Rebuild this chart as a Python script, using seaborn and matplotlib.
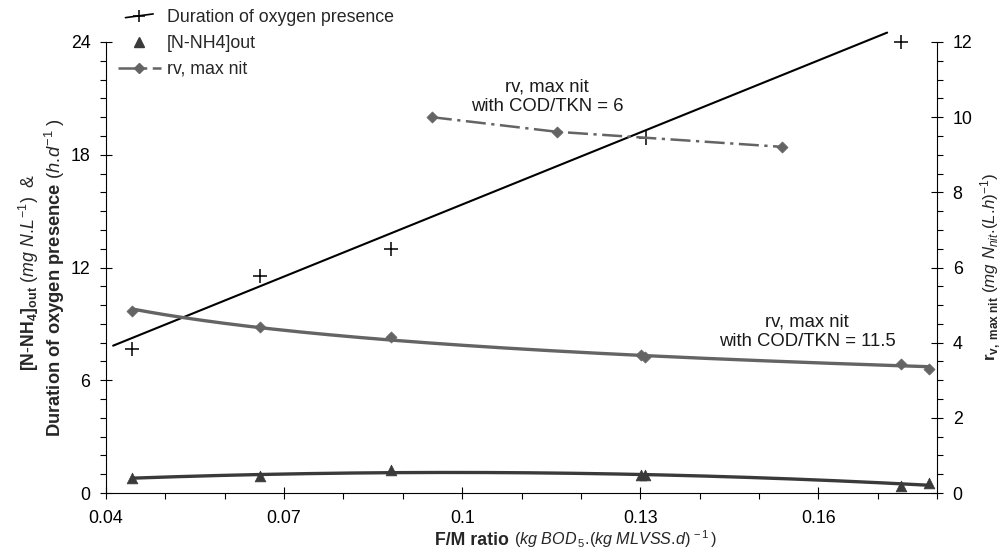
import numpy as np
import matplotlib
matplotlib.use("Agg")
import matplotlib.pyplot as plt
from matplotlib.lines import Line2D
from matplotlib.legend_handler import HandlerLine2D
from matplotlib.ticker import MultipleLocator, FixedLocator, FixedFormatter
import seaborn as sns

# ---- data -------------------------------------------------------------
# F/M ratio in kg BOD5 per kg MLVSS per day
fm_duration = [0.0444, 0.0659, 0.0880, 0.1310, 0.1740]
oxygen_duration = [7.65, 11.55, 13.0, 18.9, 24.0]          # h/d
duration_trend_fm = [0.0412, 0.1716]
duration_trend_h = [7.84, 24.5]

fm_nh4 = [0.0444, 0.0659, 0.0880, 0.1301, 0.1308, 0.1740, 0.1787]
nh4_out = [0.80, 0.90, 1.20, 0.96, 0.96, 0.37, 0.53]        # mg N/L

fm_rv_115 = [0.0444, 0.0659, 0.0880, 0.1301, 0.1308, 0.1740, 0.1787]
rv_115 = [4.84, 4.42, 4.15, 3.67, 3.62, 3.43, 3.30]          # mg Nnit/(L.h)

fm_rv_6 = [0.0949, 0.1160, 0.1539]
rv_6 = [10.0, 9.61, 9.21]

x_ticks = [0.04, 0.07, 0.10, 0.13, 0.16]
x_tick_labels = ["0.04", "0.07", "0.1", "0.13", "0.16"]
left_ticks = [0, 6, 12, 18, 24]
right_ticks = [0, 2, 4, 6, 8, 10, 12]

legend_labels = ["Duration of oxygen presence", "[N-NH4]out", "rv, max nit"]

# ---- style ------------------------------------------------------------
sns.set_theme(style="ticks")
plt.rcParams["font.family"] = ["Liberation Sans", "DejaVu Sans"]
plt.rcParams["mathtext.fontset"] = "custom"
plt.rcParams["mathtext.rm"] = "Liberation Sans"
plt.rcParams["mathtext.it"] = "Liberation Sans:italic"
plt.rcParams["mathtext.bf"] = "Liberation Sans:bold"
FS = 12.8

GREY = "#646464"
DARK = "#3a3a3a"

W, H = 1002, 555
fig = plt.figure(figsize=(W / 100, H / 100), dpi=100)
fig.patch.set_facecolor("white")
ax = fig.add_axes([106 / W, 62 / H, 831 / W, 451 / H])
ax2 = ax.twinx()
for a in (ax, ax2):
    a.set_facecolor("none")

# ---- oxygen presence: trend line + markers ------------------------------
sns.lineplot(x=duration_trend_fm, y=duration_trend_h, ax=ax, color="black",
             linewidth=1.5, legend=False)
ax.lines[-1].set_clip_on(False)
sns.scatterplot(x=fm_duration, y=oxygen_duration, ax=ax, marker="+", s=95,
                color="black", linewidth=1.1, clip_on=False, zorder=4)

# ---- ammonium: 2nd-order polynomial trend -------------------------------
nh4_coef = np.polyfit(fm_nh4, nh4_out, 2)
xs_nh4 = np.linspace(min(fm_nh4), max(fm_nh4), 200)
sns.lineplot(x=xs_nh4, y=np.polyval(nh4_coef, xs_nh4), ax=ax, color=DARK,
             linewidth=2.4, legend=False)
sns.scatterplot(x=fm_nh4, y=nh4_out, ax=ax, marker="^", s=60, color=DARK,
                edgecolor=DARK, linewidth=0.5, zorder=4, clip_on=False)

# ---- rv, max nit (COD/TKN = 11.5): power trend ---------------------------
pw = np.polyfit(np.log(fm_rv_115), np.log(rv_115), 1)
xs_rv = np.linspace(min(fm_rv_115), max(fm_rv_115), 200)
sns.lineplot(x=xs_rv, y=np.exp(np.polyval(pw, np.log(xs_rv))), ax=ax2,
             color=GREY, linewidth=2.4, legend=False)
sns.scatterplot(x=fm_rv_115, y=rv_115, ax=ax2, marker="D", s=32, color=GREY,
                edgecolor=GREY, linewidth=0.5, zorder=4, clip_on=False)

# ---- rv, max nit (COD/TKN = 6): dash-dot ---------------------------------
DASHDOT = (0, (8, 2.2, 1.3, 2.2))
sns.lineplot(x=fm_rv_6, y=rv_6, ax=ax2, color=GREY, linewidth=1.8,
             legend=False)
ax2.lines[-1].set_linestyle(DASHDOT)
sns.scatterplot(x=fm_rv_6, y=rv_6, ax=ax2, marker="D", s=32, color=GREY,
                edgecolor=GREY, linewidth=0.5, zorder=4)

# ---- axes ---------------------------------------------------------------
ax.set_xlim(0.04, 0.18)
ax.set_ylim(0, 24)
ax2.set_ylim(0, 12)

ax.xaxis.set_major_locator(FixedLocator(x_ticks))
ax.xaxis.set_major_formatter(FixedFormatter(x_tick_labels))
ax.xaxis.set_minor_locator(MultipleLocator(0.01))
ax.yaxis.set_major_locator(FixedLocator(left_ticks))
ax.yaxis.set_minor_locator(MultipleLocator(1))
ax2.yaxis.set_major_locator(FixedLocator(right_ticks))
ax2.yaxis.set_minor_locator(MultipleLocator(0.5))

for a in (ax, ax2):
    a.spines["top"].set_visible(False)
    for s in a.spines.values():
        s.set_color("black")
        s.set_linewidth(0.8)
    a.tick_params(which="major", direction="inout", length=8.5, width=0.8,
                  labelsize=FS, colors="black")
    a.tick_params(which="minor", direction="out", length=4, width=0.8,
                  colors="black")
ax.spines["right"].set_visible(False)
ax2.spines["left"].set_visible(False)
ax2.spines["bottom"].set_visible(False)
ax.tick_params(axis="x", which="major", pad=8)
ax.tick_params(axis="y", which="major", pad=7)
ax2.tick_params(axis="y", which="major", pad=7)
ax.set_xlabel("")
ax.set_ylabel("")
ax2.set_ylabel("")

# ---- annotations --------------------------------------------------------
ax.text(0.1143, 21.07, "rv, max nit\nwith COD/TKN = 6", ha="center",
        va="center", fontsize=13.3, color="#1a1a1a", multialignment="center")
ax.text(0.1581, 8.57, "rv, max nit\nwith COD/TKN = 11.5", ha="center",
        va="center", fontsize=13.3, color="#1a1a1a", multialignment="center")

# ---- axis titles --------------------------------------------------------
fig.text(509 / W, 1 - 545 / H, "F/M ratio", fontweight="bold",
         ha="right", va="baseline", fontsize=FS)
fig.text(514 / W, 1 - 545 / H,
         r"$\mathit{(kg\ BOD_{\,5}.\!(kg\ MLVSS.\!d)^{\,-1}\,)}$",
         ha="left", va="baseline", fontsize=11.6)
fig.text(29 / W, 1 - 272 / H,
         r"$\mathbf{[N}\text{-}\mathbf{NH_{4}]_{out}}\ \mathit{(mg\ N.\!L^{-1})}$  &",
         ha="center", va="center", rotation=90, fontsize=FS)
fig.text(55 / W, 1 - 277 / H,
         r"$\mathbf{Duration\ of\ oxygen\ presence}\ \mathit{(h.\!d^{-1}\ )}$",
         ha="center", va="center", rotation=90, fontsize=13.2)
fig.text(991 / W, 1 - 267 / H,
         r"$\mathbf{r}_{\mathbf{v,\ max\ nit}}\ \mathit{(mg\ N_{nit}.\!(L.\!h)^{-1})}$",
         ha="center", va="center", rotation=90, fontsize=12.2)


# ---- legend -------------------------------------------------------------
class TiltedLineHandler(HandlerLine2D):
    def create_artists(self, legend, orig_handle, xdescent, ydescent,
                       width, height, fontsize, trans):
        artists = super().create_artists(legend, orig_handle, xdescent,
                                         ydescent, width, height, fontsize,
                                         trans)
        for art in artists:
            yd = np.asarray(art.get_ydata(), dtype=float)
            if yd.size > 1:
                art.set_ydata(yd + np.linspace(-0.15, 0.15, yd.size) * height)
                xd = np.asarray(art.get_xdata(), dtype=float)
                mid = xd.mean()
                art.set_xdata(mid + (xd - mid) * 0.65)
        return artists


h_dur = Line2D([], [], color="black", linewidth=1.2, marker="+",
               markersize=9, markeredgewidth=1.1)
h_nh4 = Line2D([], [], color=DARK, linestyle="none", marker="^",
               markersize=7.5)
h_rv = Line2D([], [], color=GREY, linewidth=1.8, linestyle=DASHDOT,
              marker="D", markersize=5)
fig.legend([h_dur, h_nh4, h_rv], legend_labels, loc="upper left",
           bbox_to_anchor=(118 / W, 1 - 9 / H), frameon=False, fontsize=FS,
           handlelength=2.4, handletextpad=0.35, labelspacing=0.5,
           borderpad=0, borderaxespad=0,
           handler_map={h_dur: TiltedLineHandler()})

fig.savefig("out.png", dpi=100)
